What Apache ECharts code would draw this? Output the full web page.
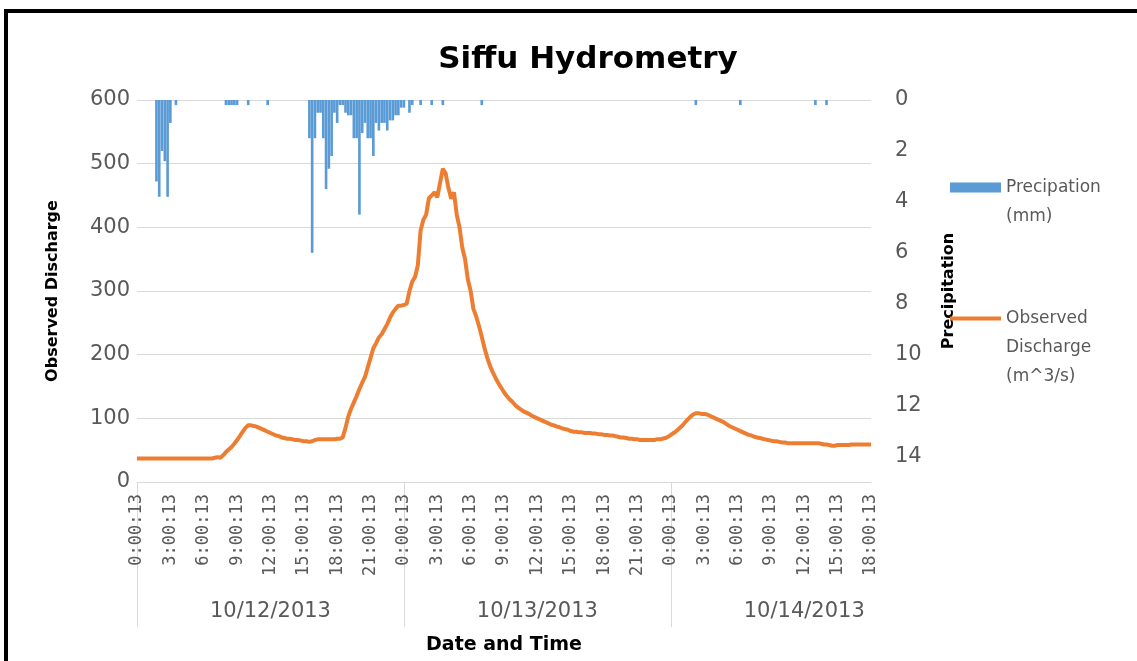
<!DOCTYPE html>
<html>
<head>
<meta charset="utf-8">
<script src="https://cdn.jsdelivr.net/npm/echarts@6/dist/echarts.min.js"></script>
<style>
html,body{margin:0;padding:0;background:#fff;}
#chart{width:1137px;height:661px;}
</style>
</head>
<body>
<div id="chart"></div>
<script>
// ---- data (15-minute steps from 10/12/2013 0:00:13 to 10/14/2013 18:00:13) ----
const stepMinutes = 15;
const dayLabels = ['10/12/2013', '10/13/2013', '10/14/2013'];
const dayLabelHours = [12, 36, 60];
const dayBoundaryHours = [0, 24, 48];

// Observed discharge (m^3/s), one row = 3 hours
const discharge = [
  37,37,37,37,37,37,37,37,37,37,37,37,
  37,37,37,37,37,37,37,37,37,37,37,37,
  37,37,37,37,38,39,38,42,47,51,55,60,
  66,72,79,85,89,89,88,87,85,83,81,79,
  77,75,73,72,70,69,68,68,67,66,66,65,
  64,64,63,64,66,67,67,67,67,67,67,67,
  68,68,70,85,103,115,125,135,146,156,165,180,
  195,210,218,227,232,240,248,258,266,272,277,277,
  278,280,300,315,322,340,395,412,420,446,450,455,
  447,470,492,485,462,445,455,420,400,368,350,318,
  300,272,260,245,228,210,195,182,172,163,155,148,
  141,135,130,126,121,117,114,111,109,107,104,102,
  100,98,96,94,92,90,89,87,86,84,83,82,
  80,79,79,78,78,77,77,77,76,76,75,75,
  74,74,73,73,72,71,70,70,69,68,68,67,
  67,66,66,66,66,66,66,67,67,68,69,71,
  74,77,80,84,88,93,98,102,106,108,108,107,
  107,106,104,102,100,98,96,94,91,88,86,84,
  82,80,78,76,74,73,71,70,69,68,67,66,
  65,64,64,63,62,62,61,61,61,61,61,61,
  61,61,61,61,61,61,60,59,59,58,57,57,
  58,58,58,58,58,59,59,59,59,59,59,59,
  59
];

// Precipitation (mm), one row = 3 hours
const precipitation = [
  0,0,0,0,0,0,0,3.2,3.8,2.0,2.4,3.8,
  0.9,0,0.2,0,0,0,0,0,0,0,0,0,
  0,0,0,0,0,0,0,0,0.2,0.2,0.2,0.2,
  0.2,0,0,0,0.2,0,0,0,0,0,0,0.2,
  0,0,0,0,0,0,0,0,0,0,0,0,
  0,0,1.5,6.0,1.5,0.5,0.5,1.5,3.5,2.7,2.2,0.5,
  0.9,0.2,0.2,0.5,0.6,0.6,1.5,1.5,4.5,1.3,0.9,1.5,
  1.5,2.2,0.9,1.2,0.9,0.9,1.2,0.8,0.8,0.6,0.6,0.3,
  0.3,0,0.5,0.2,0,0,0.2,0,0,0,0.2,0,
  0,0,0.2,0,0,0,0,0,0,0,0,0,
  0,0,0,0,0.2,0,0,0,0,0,0,0,
  0,0,0,0,0,0,0,0,0,0,0,0,
  0,0,0,0,0,0,0,0,0,0,0,0,
  0,0,0,0,0,0,0,0,0,0,0,0,
  0,0,0,0,0,0,0,0,0,0,0,0,
  0,0,0,0,0,0,0,0,0,0,0,0,
  0,0,0,0,0,0,0,0,0,0.2,0,0,
  0,0,0,0,0,0,0,0,0,0,0,0,
  0,0.2,0,0,0,0,0,0,0,0,0,0,
  0,0,0,0,0,0,0,0,0,0,0,0,
  0,0,0,0,0.2,0,0,0,0.2,0,0,0,
  0,0,0,0,0,0,0,0,0,0,0,0,
  0
];

// time-of-day category labels
const categories = discharge.map((_, k) => {
  const m = k * stepMinutes;
  const h = Math.floor(m / 60) % 24;
  const mm = m % 60;
  return h + ':' + String(mm).padStart(2, '0') + ':13';
});
const totalHours = (discharge.length - 1) * stepMinutes / 60;

const FONT = 'DejaVu Sans';
const GREY = '#595959';
const GRID = '#d9d9d9';

const chart = echarts.init(document.getElementById('chart'), null, {renderer: 'canvas'});
chart.setOption({
  animation: false,
  backgroundColor: '#fff',
  title: {
    text: 'Siffu Hydrometry',
    left: 583,
    textAlign: 'center',
    top: 39,
    textStyle: {fontFamily: FONT, fontSize: 31, fontWeight: 'bold', color: '#000'}
  },
  legend: {
    orient: 'vertical',
    left: 948,
    top: 144,
    padding: 0,
    itemWidth: 51,
    itemHeight: 10,
    itemGap: 15,
    textStyle: {fontFamily: FONT, fontSize: 17, color: GREY, lineHeight: 29},
    data: [
      {name: 'Precipation (mm)', icon: 'rect'},
      {name: 'Observed Discharge (m^3/s)', itemStyle: {opacity: 0}, lineStyle: {width: 4, color: '#ED7D31'}}
    ],
    formatter: function (name) {
      if (name === 'Precipation (mm)') return ' \nPrecipation\n(mm)';
      return ' \n \nObserved\nDischarge\n(m^3/s)';
    }
  },
  grid: {left: 137, right: 266, top: 100, bottom: 179, containLabel: false},
  xAxis: [
    {
      type: 'category',
      data: categories,
      boundaryGap: false,
      axisLine: {show: true, onZero: false, lineStyle: {color: GRID, width: 1}},
      axisTick: {show: false},
      axisLabel: {
        interval: 11,
        rotate: 90,
        margin: 12,
        fontFamily: 'DejaVu Sans Mono',
        fontSize: 17,
        color: GREY
      },
      splitLine: {show: false},
      name: 'Date and Time',
      nameLocation: 'middle',
      nameGap: 154,
      nameTextStyle: {fontFamily: FONT, fontSize: 19, fontWeight: 'bold', color: '#000'}
    },
    {
      type: 'value',
      position: 'bottom',
      min: 0,
      max: totalHours,
      interval: 12,
      axisLine: {show: false, onZero: false},
      axisTick: {
        show: true,
        inside: false,
        customValues: dayBoundaryHours,
        length: 145,
        lineStyle: {color: GRID, width: 1}
      },
      axisLabel: {
        customValues: dayLabelHours,
        margin: 119,
        fontFamily: FONT,
        fontSize: 21,
        color: GREY,
        formatter: function (v) {
          const i = dayLabelHours.indexOf(Math.round(v));
          return i >= 0 ? dayLabels[i] : '';
        }
      },
      splitLine: {show: false}
    }
  ],
  yAxis: [
    {
      type: 'value',
      min: 0,
      max: 600,
      interval: 100,
      axisLine: {show: false},
      axisTick: {show: false},
      axisLabel: {fontFamily: FONT, fontSize: 21, color: GREY, margin: 7},
      splitLine: {show: true, lineStyle: {color: GRID, width: 1}},
      name: 'Observed Discharge',
      nameLocation: 'middle',
      nameRotate: 90,
      nameGap: 76,
      nameTextStyle: {fontFamily: FONT, fontSize: 16, fontWeight: 'bold', color: '#000'}
    },
    {
      type: 'value',
      position: 'right',
      inverse: true,
      min: 0,
      max: 15,
      interval: 2,
      axisLine: {show: false, onZero: false},
      axisTick: {show: false},
      axisLabel: {
        fontFamily: FONT, fontSize: 21, color: GREY, margin: 24,
        formatter: function (v) { return v > 14 ? '' : String(v); }
      },
      splitLine: {show: false},
      name: 'Precipitation',
      nameLocation: 'middle',
      nameRotate: 90,
      nameGap: 70,
      nameTextStyle: {fontFamily: FONT, fontSize: 16, fontWeight: 'bold', color: '#000'}
    }
  ],
  series: [
    {
      name: 'Precipation (mm)',
      type: 'bar',
      xAxisIndex: 0,
      yAxisIndex: 1,
      data: precipitation,
      barCategoryGap: '5%',
      itemStyle: {color: '#5B9BD5'},
      z: 2
    },
    {
      name: 'Observed Discharge (m^3/s)',
      type: 'line',
      xAxisIndex: 0,
      yAxisIndex: 0,
      data: discharge,
      symbol: 'none',
      smooth: false,
      lineStyle: {color: '#ED7D31', width: 4},
      itemStyle: {color: '#ED7D31'},
      z: 3
    }
  ],
  graphic: [
    {type: 'rect', shape: {x: 4, y: 9, width: 1133, height: 4}, style: {fill: '#000'}, silent: true},
    {type: 'rect', shape: {x: 4, y: 9, width: 4, height: 652}, style: {fill: '#000'}, silent: true}
  ]
});
</script>
</body>
</html>
